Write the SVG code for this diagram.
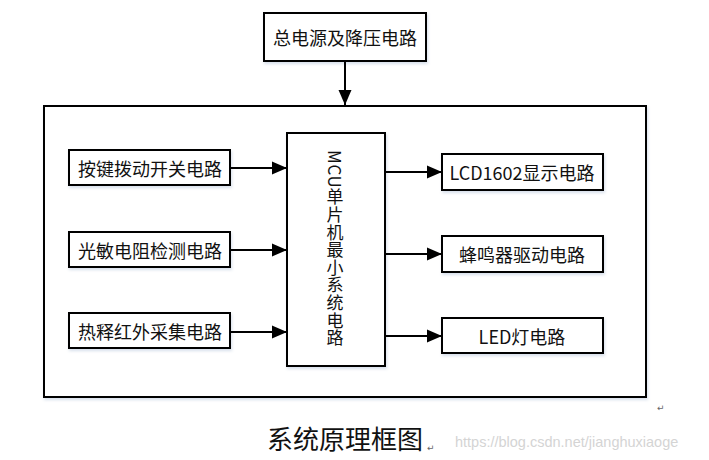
<svg xmlns="http://www.w3.org/2000/svg" width="709" height="460" viewBox="0 0 709 460">
<style>
.box{fill:#fff;stroke:#000;stroke-width:2;filter:url(#sh)}
.t{font-family:"Noto Sans CJK SC","Noto Sans",sans-serif;font-size:18px;fill:#111;text-anchor:middle;dominant-baseline:central}
.c{stroke:#000;stroke-width:2;fill:none;marker-end:url(#ah)}
</style>
<defs>
<marker id="ah" markerWidth="16" markerHeight="14" refX="15" refY="7" orient="auto" markerUnits="userSpaceOnUse">
<path d="M0,0.5 L15,7 L0,13.5 Z" fill="#000"/>
</marker>
<filter id="sh" x="-10%" y="-10%" width="130%" height="130%">
<feDropShadow dx="1" dy="2" stdDeviation="1.5" flood-color="#8fa6c8" flood-opacity="0.35"/>
</filter>
</defs>
<rect width="709" height="460" fill="#fff"/>
<g id="outer"><rect class="box" x="44" y="106" width="602" height="291"/></g>
<g id="power"><rect class="box" x="264" y="13" width="162" height="48"/><text class="t" x="345" y="37">总电源及降压电路</text></g>
<g id="mcu"><rect class="box" x="287" y="133" width="98" height="233"/><text x="335" y="150" style="writing-mode:vertical-rl;font-family:'Noto Sans CJK SC','Noto Sans',sans-serif;font-size:17px;fill:#111;letter-spacing:0.6px">MCU单片机最小系统电路</text></g>
<g id="key"><rect class="box" x="69" y="150" width="161" height="35"/><text class="t" x="150" y="167.5">按键拨动开关电路</text></g>
<g id="light"><rect class="box" x="69" y="232" width="161" height="35"/><text class="t" x="150" y="249.5">光敏电阻检测电路</text></g>
<g id="pir"><rect class="box" x="69" y="313" width="161" height="35"/><text class="t" x="150" y="330.5">热释红外采集电路</text></g>
<g id="lcd"><rect class="box" x="442" y="154" width="161" height="36"/><text class="t" x="522" y="172">LCD1602显示电路</text></g>
<g id="buzzer"><rect class="box" x="442" y="236" width="161" height="36"/><text class="t" x="522" y="254">蜂鸣器驱动电路</text></g>
<g id="led"><rect class="box" x="442" y="318" width="161" height="35"/><text class="t" x="522" y="335.5">LED灯电路</text></g>
<g id="connectors">
<line class="c" x1="345" y1="61" x2="345" y2="105"/>
<line class="c" x1="230" y1="168" x2="287" y2="168"/>
<line class="c" x1="230" y1="250" x2="287" y2="250"/>
<line class="c" x1="230" y1="332" x2="287" y2="332"/>
<line class="c" x1="385" y1="172" x2="442" y2="172"/>
<line class="c" x1="385" y1="254" x2="442" y2="254"/>
<line class="c" x1="385" y1="336" x2="442" y2="336"/>
</g>
<text x="657" y="411" style="font-family:'DejaVu Sans',sans-serif;font-size:9px;fill:#666">↵</text>
<text x="267" y="449" style="font-family:'Noto Sans CJK SC',serif;font-size:26px;fill:#111">系统原理框图</text>
<text x="427" y="451" style="font-family:'DejaVu Sans',sans-serif;font-size:9px;fill:#666">↵</text>
<text x="455" y="447" style="font-family:'Liberation Sans',Arial,sans-serif;font-size:14.5px;fill:#d4d4d4">https://blog.csdn.net/jianghuxiaoge</text>
</svg>
